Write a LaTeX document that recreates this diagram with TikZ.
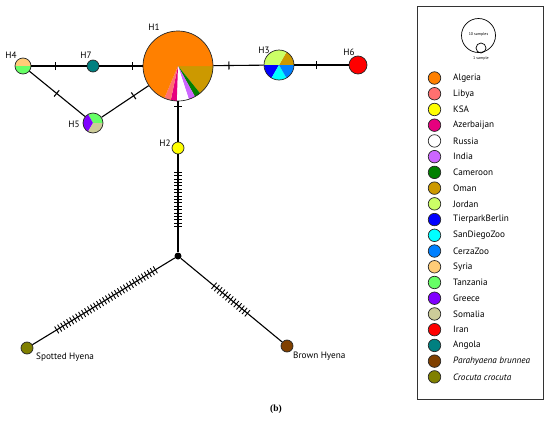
\documentclass[tikz,border=0pt]{standalone}
\usepackage{fontspec}
\setmainfont{PT Sans}
\newfontfamily\capfont{Liberation Serif}
\usetikzlibrary{decorations.markings}
\definecolor{algeria}{HTML}{FF8000}
\definecolor{libya}{HTML}{FF7070}
\definecolor{ksa}{HTML}{FFFF00}
\definecolor{azerbaijan}{HTML}{E6007E}
\definecolor{russia}{HTML}{FFFFFF}
\definecolor{india}{HTML}{CC66FF}
\definecolor{cameroon}{HTML}{008000}
\definecolor{oman}{HTML}{CC9900}
\definecolor{jordan}{HTML}{CCFF66}
\definecolor{tierpark}{HTML}{0000FF}
\definecolor{sandiego}{HTML}{00FFFF}
\definecolor{cerza}{HTML}{0080FF}
\definecolor{syria}{HTML}{FFCC77}
\definecolor{tanzania}{HTML}{66FF66}
\definecolor{greece}{HTML}{8000FF}
\definecolor{somalia}{HTML}{CCCC99}
\definecolor{iran}{HTML}{FF0000}
\definecolor{angola}{HTML}{008080}
\definecolor{parahyaena}{HTML}{804000}
\definecolor{crocuta}{HTML}{808000}
\newcommand\pieslice[5]{\fill[#5] (#1) -- ++(#3:#2) arc[start angle=#3, end angle=#4, radius=#2] -- cycle;}
\tikzset{
  hap/.style={circle, draw=black!85, line width=0.7pt, inner sep=0pt},
  link/.style={line width=1.1pt},
  hlabel/.style={font=\fontsize{9.2}{11}\selectfont, inner sep=0pt},
  legtext/.style={anchor=west, font=\fontsize{9.2}{11}\selectfont, inner sep=0pt},
  onetick/.style={postaction={decorate, decoration={markings, mark=at position #1 with {\draw[line width=1.1pt] (0,-4pt) -- (0,4pt);}}}},
  manyticks/.style args={#1 to #2 step #3}{postaction={decorate, decoration={markings, mark=between positions #1 and #2 step #3 with {\draw[line width=0.9pt] (0,-4pt) -- (0,4pt);}}}}
}
\begin{document}
\begin{tikzpicture}[x=1pt,y=-1pt]
\useasboundingbox (0,0) rectangle (550,426);
% centres
\coordinate (c1) at (178,66);
\coordinate (c3) at (279,65);
\coordinate (c4) at (23,66);
\coordinate (c5) at (93,123);
% pie slices H1
\pieslice{c1}{35pt}{0}{-51}{oman}
\pieslice{c1}{35pt}{-51}{-61}{cameroon}
\pieslice{c1}{35pt}{-61}{-72}{india}
\pieslice{c1}{35pt}{-72}{-92}{russia}
\pieslice{c1}{35pt}{-92}{-102}{azerbaijan}
\pieslice{c1}{35pt}{-102}{-113}{libya}
\pieslice{c1}{35pt}{-113}{-360}{algeria}
% H3
\pieslice{c3}{15pt}{0}{60}{oman}
\pieslice{c3}{15pt}{60}{180}{jordan}
\pieslice{c3}{15pt}{180}{240}{tierpark}
\pieslice{c3}{15pt}{240}{300}{sandiego}
\pieslice{c3}{15pt}{300}{360}{cerza}
% H4
\pieslice{c4}{8pt}{0}{180}{syria}
\pieslice{c4}{8pt}{180}{360}{tanzania}
% H5
\pieslice{c5}{10pt}{0}{120}{tanzania}
\pieslice{c5}{10pt}{120}{240}{greece}
\pieslice{c5}{10pt}{240}{360}{somalia}
% nodes
\node[hap, minimum size=70pt] (H1) at (c1) {};
\node[hap, minimum size=30pt] (H3) at (c3) {};
\node[hap, minimum size=16pt] (H4) at (c4) {};
\node[hap, minimum size=20pt] (H5) at (c5) {};
\node[hap, minimum size=12pt, fill=angola] (H7) at (93,66) {};
\node[hap, minimum size=18pt, fill=iran] (H6) at (358,65) {};
\node[hap, minimum size=12pt, fill=ksa] (H2) at (178,148) {};
\node[circle, fill=black, inner sep=0pt, minimum size=7pt] (J) at (178,256) {};
\node[hap, minimum size=12pt, fill=crocuta] (SH) at (27,348) {};
\node[hap, minimum size=12pt, fill=parahyaena] (BH) at (287,346) {};
% labels
\node[hlabel] (lH1) at (154,27) {H1};
\node[hlabel] (lH3) at (264,50) {H3};
\node[hlabel] (lH6) at (349,52) {H6};
\node[hlabel] (lH4) at (11,55) {H4};
\node[hlabel] (lH7) at (86,55) {H7};
\node[hlabel] (lH5) at (74,124) {H5};
\node[hlabel] (lH2) at (165,143) {H2};
\node[hlabel, anchor=west] (lSH) at (36,357) {Spotted Hyena};
\node[hlabel, anchor=west] (lBH) at (293,356) {Brown Hyena};
\node[font=\capfont\bfseries\fontsize{9.5}{11}\selectfont, inner sep=0pt] (cap) at (276,409) {(b)};
% connectors
\draw[link, onetick=0.23] (H1) -- (H7);
\draw[link, onetick=0.43] (H4) -- (H7);
\draw[link, onetick=0.49] (H4) -- (H5);
\draw[link, onetick=0.32] (H1) -- (H5);
\draw[link, onetick=0.31] (H1) -- (H3);
\draw[link, onetick=0.4] (H3) -- (H6);
\draw[link, onetick=0.12] (H1) -- (H2);
\draw[link, manyticks=0.183 to 0.741 step 3.4pt] (H2) -- (J);
\draw[link, manyticks=0.137 to 0.848 step 3.5pt] (J) -- (SH);
\draw[link, manyticks=0.328 to 0.663 step 3.6pt] (J) -- (BH);
% legend
\node[draw=black!80, line width=0.8pt, minimum width=126pt, minimum height=393pt, inner sep=0pt] (leg) at (480,202.5) {};
\node[circle, draw=black, line width=0.7pt, minimum size=34pt, inner sep=0pt] (big) at (478.5,35.5) {};
\node[circle, draw=black, line width=0.7pt, minimum size=10pt, inner sep=0pt] (small) at (481,48) {};
\node[font=\fontsize{4}{5}\selectfont, inner sep=0pt] (t10) at (478.5,34) {10 samples};
\node[font=\fontsize{4}{5}\selectfont, inner sep=0pt] (t1) at (481,58) {1 sample};
\foreach \c/\t [count=\i] in {algeria/Algeria, libya/Libya, ksa/KSA, azerbaijan/Azerbaijan, russia/Russia, india/India, cameroon/Cameroon, oman/Oman, jordan/Jordan, tierpark/TierparkBerlin, sandiego/SanDiegoZoo, cerza/CerzaZoo, syria/Syria, tanzania/Tanzania, greece/Greece, somalia/Somalia, iran/Iran, angola/Angola, parahyaena/{\itshape Parahyaena brunnea}, crocuta/{\itshape Crocuta crocuta}} {
  \node[hap, fill=\c, minimum size=12.5pt] (lc\i) at (434.5,{78+15.73*(\i-1)}) {};
  \node[legtext] (lt\i) at (453,{78+15.73*(\i-1)}) {\t};
}
\end{tikzpicture}
\end{document}
